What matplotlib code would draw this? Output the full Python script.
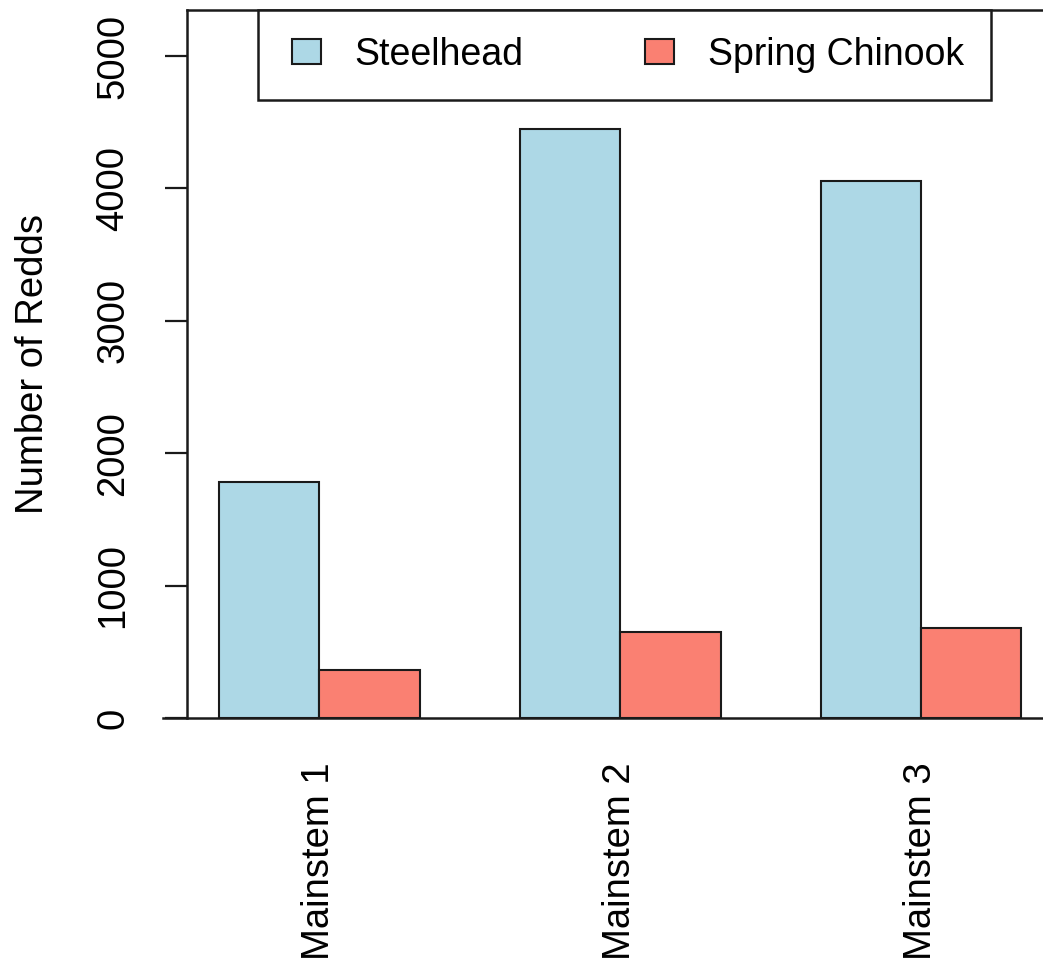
import matplotlib
matplotlib.use("Agg")
import matplotlib.pyplot as plt
import matplotlib.patches as mpatches
from matplotlib.container import BarContainer
from matplotlib.legend_handler import HandlerPatch, update_from_first_child
import numpy as np

# data
categories = ["Mainstem 1", "Mainstem 2", "Mainstem 3"]
steelhead = [1780, 4450, 4055]
chinook = [365, 650, 680]
seriesNames = ["Steelhead", "Spring Chinook"]
seriesColors = ["#ADD8E6", "#FA8072"]
yTicks = [0, 1000, 2000, 3000, 4000, 5000]

plt.rcParams['font.family'] = ['Liberation Sans', 'DejaVu Sans']
fontSize = 27.5
legendSize = 27
edge = '#1a1a1a'


def smallBox(legend, orig_handle, xdescent, ydescent, width, height, fontsize):
    # R-style legend square, sitting at the right of the handle slot
    w = 21
    h = 18
    return mpatches.Rectangle((width - w - xdescent, (height - h) / 2 - ydescent), w, h)


fig = plt.figure(figsize=(10.43, 9.6), dpi=100)
ax = fig.add_axes([187 / 1043, 1 - 718 / 960, 1 - 187 / 1043, (718 - 10) / 960])

# R barplot(beside=TRUE) layout: bars of width 1, one unit gap before each group
groupStart = np.arange(len(categories)) * 3 + 1
ax.bar(groupStart + 0.5, steelhead, width=1.0, color=seriesColors[0],
       edgecolor=edge, linewidth=1.5, label=seriesNames[0])
ax.bar(groupStart + 1.5, chinook, width=1.0, color=seriesColors[1],
       edgecolor=edge, linewidth=1.5, label=seriesNames[1])

ax.set_xlim(0.68, 9.215)
ax.set_ylim(0, 5347)

ax.set_xticks(groupStart + 1)
ax.set_xticklabels(categories, rotation=90, fontsize=fontSize)
ax.tick_params(axis='x', length=0, pad=32)

ax.set_yticks(yTicks)
ax.set_yticklabels([str(t) for t in yTicks], rotation=90, va='center', fontsize=fontSize)
ax.tick_params(axis='y', length=16, width=1.6, pad=24, color=edge)

ax.set_ylabel("Number of Redds", fontsize=fontSize, labelpad=32)

for side in ['right', 'bottom']:
    ax.spines[side].set_visible(False)
for side in ['left', 'top']:
    ax.spines[side].set_linewidth(1.8)
    ax.spines[side].set_color(edge)
ax.axhline(0, xmin=-0.028, xmax=1, color=edge, linewidth=1.8, clip_on=False)

leg = ax.legend(loc='upper left', bbox_to_anchor=(258 / 1043, 1 - 10 / 960),
                bbox_transform=fig.transFigure, ncol=2, fontsize=legendSize,
                fancybox=False, edgecolor=edge, framealpha=1,
                borderpad=0.72, borderaxespad=0, handlelength=0.96,
                handleheight=0.68, handletextpad=0.9, columnspacing=3.04,
                handler_map={BarContainer: HandlerPatch(patch_func=smallBox,
                                                        update_func=update_from_first_child)})
leg.get_frame().set_linewidth(1.8)

fig.savefig("out.png", dpi=100)
